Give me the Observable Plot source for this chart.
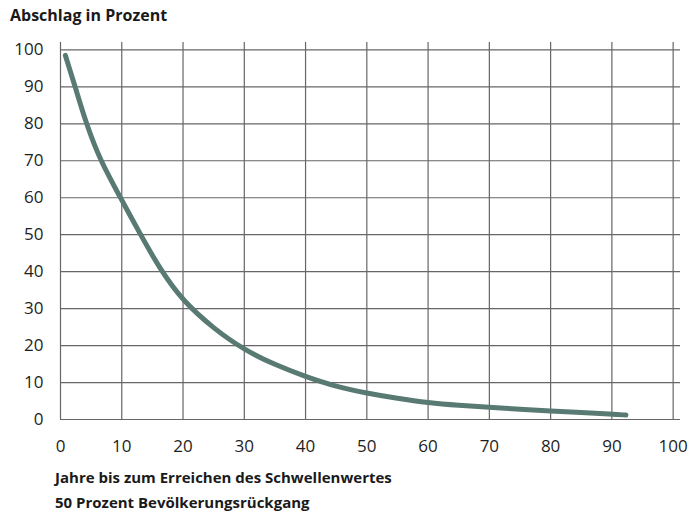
<!DOCTYPE html>
<html><head><meta charset="utf-8">
<script src="https://cdn.jsdelivr.net/npm/d3@7"></script>
<script src="https://cdn.jsdelivr.net/npm/@observablehq/plot@0.6"></script>
<style>
body{margin:0;background:#fff;font-family:"Open Sans",sans-serif;}
#wrap{position:relative;width:690px;height:519px;}
.title{position:absolute;left:10px;top:4px;font-weight:700;font-size:16px;color:#1a1a1a;}
.cap{position:absolute;left:55px;top:465px;font-weight:700;font-size:15px;line-height:25px;color:#1a1a1a;}
#chart{position:absolute;left:0;top:0;}
</style></head><body>
<div id="wrap">
<div id="chart"></div>
<div class="title">Abschlag in Prozent</div>
<div class="cap">Jahre bis zum Erreichen des Schwellenwertes<br>50 Prozent Bevölkerungsrückgang</div>
</div>
<script>
const years = [0.8, 2.4, 4.2, 6.5, 9.8, 12.9, 16.3, 20, 25, 30, 35, 40, 45, 50, 55, 60, 65, 70, 75, 80, 85, 90, 92.3];
const discount = [98.5, 90, 80, 70, 60, 50.5, 40.5, 32, 24.6, 18.8, 14.8, 11.6, 8.9, 7.1, 5.7, 4.5, 3.8, 3.3, 2.8, 2.3, 1.9, 1.5, 1.2];
const xTicks = [0,10,20,30,40,50,60,70,80,90,100];
const yTicks = [0,10,20,30,40,50,60,70,80,90,100];
const data = years.map((x,i)=>({x, y: discount[i]}));
const grid = "#666666";
const plot = Plot.plot({
  width: 690, height: 470,
  marginLeft: 60, marginRight: 10, marginTop: 42, marginBottom: 51,
  style: {fontFamily: "Open Sans, sans-serif", fontSize: "17px", color: "#1e1e1e", background: "transparent"},
  x: {domain: [0, 101.2], ticks: xTicks},
  y: {domain: [0, 102], ticks: yTicks},
  marks: [
    Plot.ruleX(xTicks, {y1: 0, y2: 102, stroke: grid, strokeWidth: 1.2, strokeOpacity: 1}),
    Plot.ruleY(yTicks, {x1: 0, x2: 101.2, stroke: grid, strokeWidth: 1.2, strokeOpacity: 1}),
    Plot.axisX({ticks: xTicks, tickSize: 0, tickPadding: 20, label: null, fontSize: 17}),
    Plot.axisY({ticks: yTicks, tickSize: 0, tickPadding: 17, label: null, fontSize: 17}),
    Plot.line(data, {x: "x", y: "y", curve: "basis", stroke: "#587a73", strokeWidth: 5, strokeLinecap: "round"})
  ]
});
document.getElementById("chart").append(plot);
</script>
</body></html>
